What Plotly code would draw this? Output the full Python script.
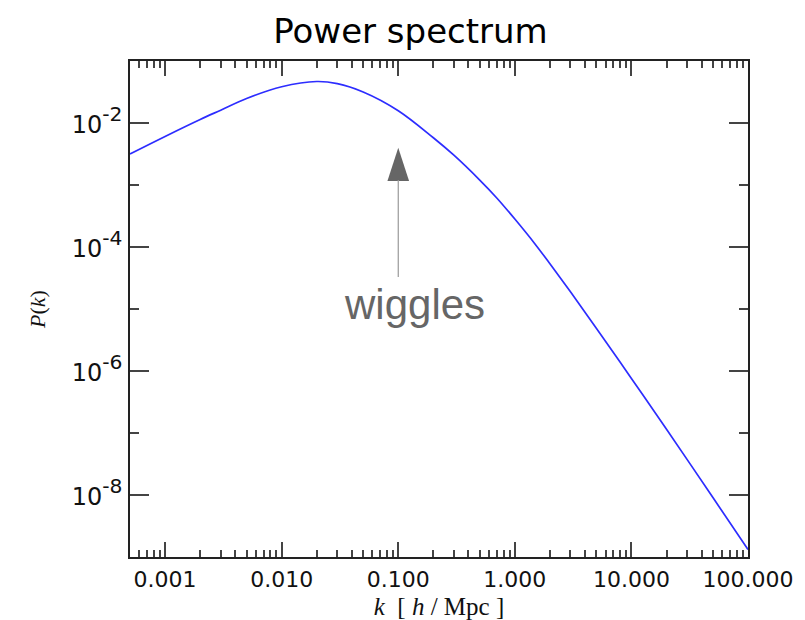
import numpy as np
import plotly.graph_objects as go

# ---- data ----
k_values = [0.0005, 0.001, 0.002, 0.003, 0.005, 0.01, 0.02, 0.03, 0.05, 0.1,
            0.2, 0.3, 0.5, 0.7, 1.0, 1.5, 2.0, 3.0, 5.0, 10.0, 20.0, 50.0, 100.0]
pk_values = [3.17e-3, 6.08e-3, 1.14e-2, 1.61e-2, 2.48e-2, 3.84e-2, 4.67e-2, 4.32e-2, 3.17e-2, 1.58e-2,
             5.78e-3, 3.02e-3, 1.2e-3, 6.18e-4, 2.82e-4, 1.10e-4, 5.37e-5, 1.89e-5, 4.9e-6,
             7.6e-7, 1.15e-7, 9.1e-9, 1.32e-9]

x_tick_vals = [0.001, 0.01, 0.1, 1, 10, 100]
x_tick_text = ["0.001", "0.010", "0.100", "1.000", "10.000", "100.000"]
y_tick_vals = [1e-8, 1e-6, 1e-4, 1e-2]
y_tick_exp = ["-8", "-6", "-4", "-2"]
y_minor_vals = [1e-7, 1e-5, 1e-3]
x_minor_vals = [m * 10.0 ** e for e in range(-4, 3) for m in range(2, 10)
                if 0.0005 <= m * 10.0 ** e <= 100]

arrow_k = 0.1
arrow_tip_p = 10 ** -2.4
arrow_base_logp = -2.92
arrow_tail_logp = -4.51
label_text = "wiggles"
label_logk = -0.86
label_logp = -4.93

y_tick_text = ["<span style='font-size:24px'>10</span><sup>%s</sup>" % e for e in y_tick_exp]

TICK_FONT = "DejaVu Sans, Liberation Sans, Arial, sans-serif"
SERIF = "Liberation Serif, Times New Roman, serif"

fig = go.Figure()
fig.add_trace(go.Scatter(
    x=k_values, y=pk_values, mode="lines",
    line=dict(color="#2d2dff", width=1.7, shape="spline", smoothing=1.0),
    hoverinfo="skip", showlegend=False,
))
# arrow head
fig.add_trace(go.Scatter(
    x=[arrow_k], y=[arrow_tip_p], mode="markers",
    marker=dict(symbol="arrow", angle=0, size=35, color="#666666", line=dict(width=0)),
    hoverinfo="skip", showlegend=False,
))

fig.add_annotation(
    x=np.log10(arrow_k), y=arrow_base_logp, ax=np.log10(arrow_k), ay=arrow_tail_logp,
    xref="x", yref="y", axref="x", ayref="y",
    text="", showarrow=True, arrowhead=0, arrowwidth=1.2, arrowcolor="#9a9a9a",
)
fig.add_annotation(
    x=label_logk, y=label_logp, xref="x", yref="y", text=label_text, showarrow=False,
    font=dict(family="Liberation Sans, Arial, sans-serif", size=42, color="#666666"),
)

axis_common = dict(
    showline=True, linecolor="#222222", linewidth=1.5, mirror="ticks",
    ticks="inside", tickcolor="#444444", tickwidth=1.5,
    showgrid=False, zeroline=False,
)

fig.update_xaxes(
    type="log", range=[np.log10(0.0005), 2],
    tickmode="array", tickvals=x_tick_vals, ticktext=x_tick_text, ticklen=15,
    ticklabelstandoff=2,
    tickfont=dict(family=TICK_FONT, size=22, color="#111111"),
    minor=dict(tickmode="array", tickvals=x_minor_vals, ticks="inside", ticklen=7,
               tickcolor="#444444", tickwidth=1.5, showgrid=False),
    title=dict(text="<i>k</i>  [ <i>h</i> / Mpc ]",
               font=dict(family=SERIF, size=25, color="#111111"),
               standoff=6),
    **axis_common,
)
fig.update_yaxes(
    type="log", range=[-9, -1],
    tickmode="array", tickvals=y_tick_vals, ticktext=y_tick_text, ticklen=19,
    tickfont=dict(family=TICK_FONT, size=29, color="#111111"),
    minor=dict(tickmode="array", tickvals=y_minor_vals, ticks="inside", ticklen=9,
               tickcolor="#444444", tickwidth=1.5, showgrid=False),
    title=dict(text="<i>P</i>(<i>k</i>)",
               font=dict(family=SERIF, size=22, color="#111111"),
               standoff=20),
    **axis_common,
)

fig.update_layout(
    width=805, height=620,
    margin=dict(l=122, r=65, t=53, b=66),
    paper_bgcolor="white", plot_bgcolor="white",
    title=dict(text="Power spectrum", x=0.5, xanchor="center", xref="container",
               y=1 - 23 / 620, yanchor="middle",
               font=dict(family=TICK_FONT, size=34, color="#000000")),
    showlegend=False,
)

fig.write_html("out.html")
